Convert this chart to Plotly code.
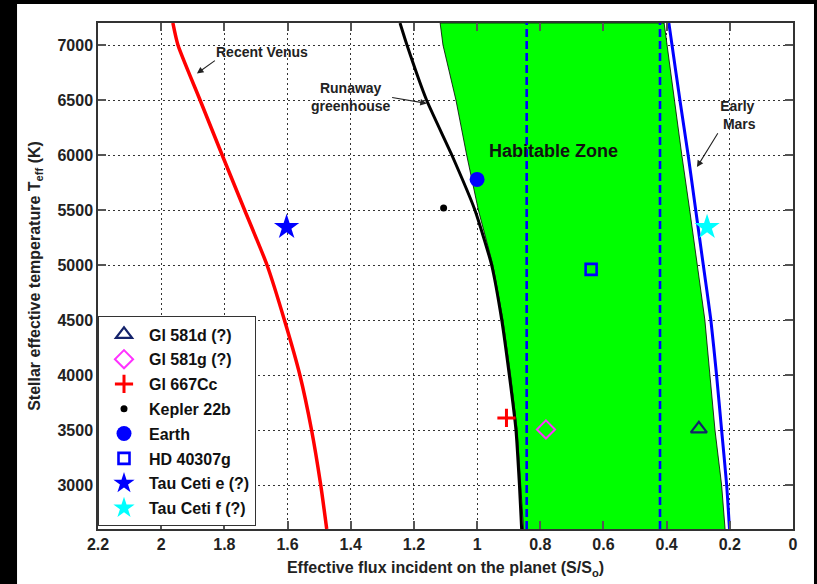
import plotly.graph_objects as go

# ---------------- data ----------------
teff_grid = [2600, 3000, 3500, 4000, 4500, 5000, 5500, 6000, 6500, 7000, 7200]

recent_venus_flux = [1.476, 1.495, 1.524, 1.561, 1.610, 1.665, 1.736, 1.807, 1.877, 1.947, 1.963]
runaway_flux      = [0.859, 0.866, 0.877, 0.898, 0.922, 0.954, 1.007, 1.080, 1.160, 1.222, 1.244]
hz_inner_flux     = [0.853, 0.861, 0.873, 0.894, 0.918, 0.950, 0.996, 1.033, 1.067, 1.108, 1.117]
hz_outer_flux     = [0.215, 0.226, 0.247, 0.263, 0.279, 0.303, 0.327, 0.352, 0.376, 0.399, 0.408]
early_mars_flux   = [0.201, 0.210, 0.226, 0.242, 0.260, 0.284, 0.308, 0.332, 0.358, 0.383, 0.393]

dashed_flux = [0.843, 0.421]
teff_limits = [2600, 7200]

planet_names = ["Gl 581d (?)", "Gl 581g (?)", "Gl 667Cc", "Kepler 22b",
                "Earth", "HD 40307g", "Tau Ceti e (?)", "Tau Ceti f (?)"]
planet_flux = [0.298, 0.782, 0.907, 1.106, 1.000, 0.639, 1.603, 0.272]
planet_teff = [3510, 3505, 3610, 5518, 5778, 4960, 5344, 5344]

x_ticks = [2.2, 2, 1.8, 1.6, 1.4, 1.2, 1, 0.8, 0.6, 0.4, 0.2, 0]
x_ticklabels = ["2.2", "2", "1.8", "1.6", "1.4", "1.2", "1", "0.8", "0.6", "0.4", "0.2", "0"]
y_ticks = [3000, 3500, 4000, 4500, 5000, 5500, 6000, 6500, 7000]

x_title = "Effective flux incident on the planet (S/S<sub>o</sub>)"
y_title = "Stellar effective temperature T<sub>eff</sub> (K)"

# curve labels: text, arrow head (flux, Teff), arrow tail / text anchor (flux, Teff)
label_texts = ["Recent Venus", "Runaway<br>greenhouse", "Early<br> Mars"]
label_heads = [(1.887, 6741), (1.159, 6469), (0.304, 5890)]
label_tails = [(1.830, 6858), (1.269, 6523), (0.238, 6197)]
hz_label = ("Habitable Zone", 0.757, 6035)

# ---------------- styles ----------------
FONT = "Liberation Sans, Arial, Helvetica, sans-serif"
planet_styles = [
    dict(symbol="triangle-up-open", size=14, color="#14236b", line=dict(width=2.2, color="#14236b")),
    dict(symbol="diamond-open", size=14, color="#ff33ff", line=dict(width=2, color="#ff33ff")),
    dict(symbol="cross-thin", size=13, color="#ff0000", line=dict(width=3, color="#ff0000")),
    dict(symbol="circle", size=7, color="#000000", line=dict(width=0)),
    dict(symbol="circle", size=15, color="#0000ff", line=dict(width=0)),
    dict(symbol="square-open", size=11, color="#0000ff", line=dict(width=2.6, color="#0000ff")),
    dict(symbol="star", size=19, color="#0000ff", line=dict(width=0)),
    dict(symbol="star", size=19, color="#00ffff", line=dict(width=0)),
]
label_anchors = [("left", "bottom"), ("right", "middle"), ("left", "bottom")]

fig = go.Figure()

# Habitable zone polygon
fig.add_trace(go.Scatter(
    x=hz_inner_flux + hz_outer_flux[::-1],
    y=teff_grid + teff_grid[::-1],
    mode="lines", fill="toself", fillcolor="#00ff00",
    line=dict(color="#000000", width=0.8),
    showlegend=False, hoverinfo="skip"))

# dashed lines
for f in dashed_flux:
    fig.add_trace(go.Scatter(
        x=[f, f], y=teff_limits, mode="lines",
        line=dict(color="#0000ff", width=2.6, dash="8px,4px"),
        showlegend=False, hoverinfo="skip"))

# curves
fig.add_trace(go.Scatter(x=recent_venus_flux, y=teff_grid, mode="lines",
                         line=dict(color="#ff0000", width=3.5, shape="spline", smoothing=0.6),
                         showlegend=False))
fig.add_trace(go.Scatter(x=runaway_flux, y=teff_grid, mode="lines",
                         line=dict(color="#000000", width=3, shape="spline", smoothing=0.5),
                         showlegend=False))
fig.add_trace(go.Scatter(x=early_mars_flux, y=teff_grid, mode="lines",
                         line=dict(color="#0000ff", width=3, shape="spline", smoothing=0.5),
                         showlegend=False))

# planets
for i, (name, fx, ty, st) in enumerate(zip(planet_names, planet_flux, planet_teff, planet_styles)):
    fig.add_trace(go.Scatter(
        x=[fx], y=[ty], mode="markers", name=name, legendgroup=f"g{i}",
        marker=dict(symbol=st["symbol"], size=st["size"], color=st["color"], line=st["line"]),
        showlegend=True))

ann_font = dict(family=FONT, size=14, color="#222222", weight="bold")
annotations = []
for txt, (hx, hy), (tx, ty), (xa, ya) in zip(label_texts, label_heads, label_tails, label_anchors):
    annotations.append(dict(
        x=hx, y=hy, ax=tx, ay=ty, axref="x", ayref="y", text=txt,
        xanchor=xa, yanchor=ya, showarrow=True, font=ann_font, align="center",
        arrowhead=2, arrowsize=1.2, arrowwidth=1.1, arrowcolor="#222222", borderpad=0))
annotations.append(dict(x=hz_label[1], y=hz_label[2], text=hz_label[0], showarrow=False,
                        font=dict(family=FONT, size=18, color="#111111", weight="bold")))

shapes = [
    dict(type="rect", xref="paper", yref="paper", x0=-0.15, x1=-0.1165, y0=-0.12, y1=1.06,
         fillcolor="black", line=dict(width=0), layer="above"),
    dict(type="rect", xref="paper", yref="paper", x0=-0.15, x1=1.05, y0=1.0375, y1=1.06,
         fillcolor="black", line=dict(width=0), layer="above"),
    dict(type="rect", xref="paper", yref="paper", x0=1.0302, x1=1.05, y0=-0.12, y1=1.06,
         fillcolor="black", line=dict(width=0), layer="above"),
]

title_font = dict(family=FONT, size=16, color="#222222", weight="bold")
axis_common = dict(
    showgrid=True, gridcolor="#333333", griddash="2px,3px", gridwidth=1,
    showline=True, linecolor="#333333", linewidth=1.5, mirror="ticks",
    ticks="inside", ticklen=8, tickcolor="#555555", tickwidth=2,
    zeroline=False, automargin=False,
    tickfont=dict(family=FONT, size=16, color="#222222", weight="bold"),
)

fig.update_layout(
    width=817, height=584, autosize=False,
    margin=dict(l=98, r=24, t=23, b=55),
    paper_bgcolor="white", plot_bgcolor="white",
    xaxis=dict(range=[2.2, 0], tickvals=x_ticks, ticktext=x_ticklabels,
               title=dict(text=x_title, font=title_font, standoff=10), **axis_common),
    yaxis=dict(range=teff_limits, tickvals=y_ticks,
               title=dict(text=y_title, font=title_font, standoff=13), **axis_common),
    legend=dict(x=0, y=0.005, xanchor="left", yanchor="bottom",
                bgcolor="white", bordercolor="#333333", borderwidth=1,
                font=dict(family=FONT, size=16, color="#111111", weight="bold"),
                traceorder="grouped", tracegroupgap=1, itemwidth=40),
    annotations=annotations,
    shapes=shapes,
    showlegend=True,
)

fig.write_html("out.html", config={"displayModeBar": False},
               post_script="document.body.style.margin='0px';document.body.style.overflow='hidden';")
